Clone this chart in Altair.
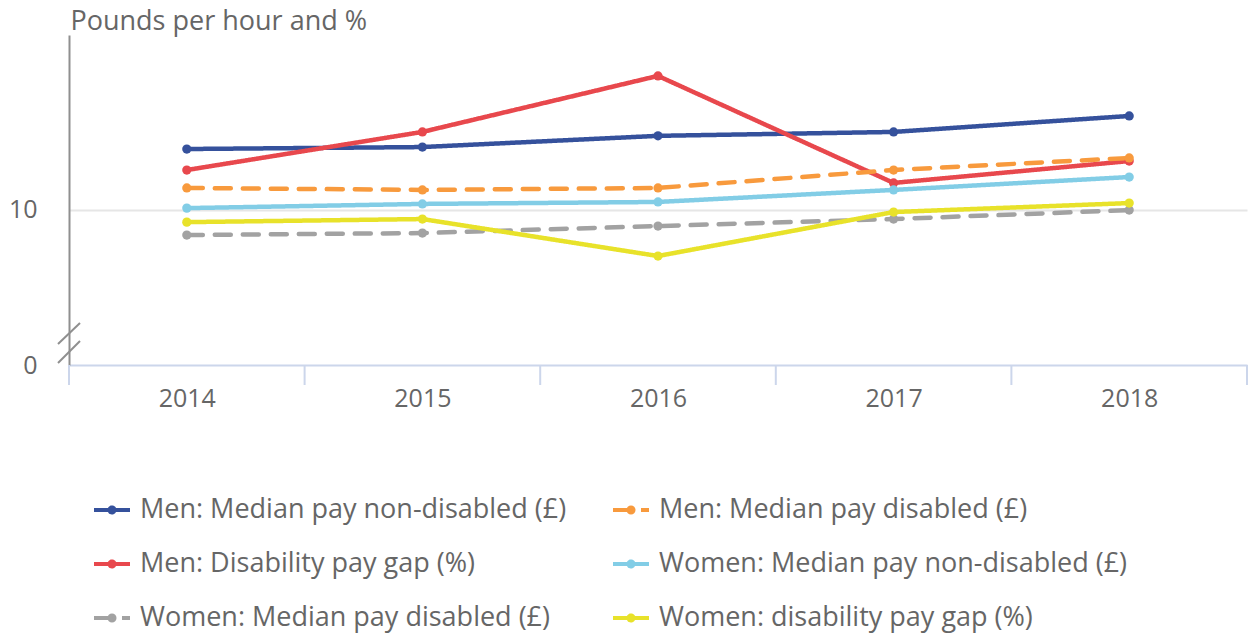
import altair as alt
import pandas as pd

years = [2014, 2015, 2016, 2017, 2018]
boundaries = [2013.5, 2014.5, 2015.5, 2016.5, 2017.5, 2018.5]

men_nd = [12.16, 12.23, 12.63, 12.77, 13.34]
men_d = [10.77, 10.70, 10.77, 11.41, 11.84]
men_gap = [11.41, 12.77, 14.77, 10.95, 11.73]
women_nd = [10.05, 10.20, 10.27, 10.70, 11.16]
women_d = [9.09, 9.16, 9.41, 9.66, 9.98]
women_gap = [9.55, 9.66, 8.34, 9.91, 10.23]

# legend order (column-major fill of a 2-column legend)
series_names = [
    "Men: Median pay non-disabled (£)",
    "Men: Disability pay gap (%)",
    "Women: Median pay disabled (£)",
    "Men: Median pay disabled (£)",
    "Women: Median pay non-disabled (£)",
    "Women: disability pay gap (%)",
]
series_values = [men_nd, men_gap, women_d, men_d, women_nd, women_gap]
colors = ["#35519C", "#E8484D", "#A2A2A2", "#F89A3D", "#82CDE6", "#E8E22A"]
dashes = [[1, 0], [1, 0], [16, 12], [16, 12], [1, 0], [1, 0]]

y_min, y_max = 4.45, 16.23

rows = []
for name, vals in zip(series_names, series_values):
    for yr, v in zip(years, vals):
        rows.append({"year": yr, "value": v, "series": name})
df = pd.DataFrame(rows)

TEXT = "#666666"
FONT = "Open Sans"

x_enc = alt.X(
    "year:Q",
    scale=alt.Scale(domain=[2013.5, 2018.5], nice=False, zero=False),
    axis=alt.Axis(
        values=years, format="d", title=None, ticks=False, grid=False,
        labelFontSize=25, labelColor=TEXT, labelFont=FONT, labelPadding=21,
        domainColor="#ccd6eb", domainWidth=2,
    ),
)
y_enc = alt.Y(
    "value:Q",
    scale=alt.Scale(domain=[y_min, y_max], nice=False, zero=False),
    axis=alt.Axis(
        values=[y_min, 10], ticks=False,
        title="Pounds per hour and %", titleAngle=0, titleAlign="left",
        titleBaseline="alphabetic", titleX=1, titleY=-6,
        titleFontSize=27, titleFont=FONT, titleColor=TEXT, titleFontWeight="normal",
        labelExpr="datum.value == 10 ? '10' : '0'",
        labelFontSize=25, labelColor=TEXT, labelFont=FONT, labelPadding=32,
        domainColor="#8f8f8f", domainWidth=2,
        grid=True,
        gridColor={"condition": {"test": "datum.value == 10", "value": "#e6e6e6"}, "value": "transparent"},
        gridWidth=2,
    ),
)

color_scale = alt.Scale(domain=series_names, range=colors)
dash_scale = alt.Scale(domain=series_names, range=dashes)

legend_path = "M-1,0L1,0M0.14,0A0.14,0.14,0,1,1,-0.14,0A0.14,0.14,0,1,1,0.14,0Z"
legend = alt.Legend(
    title=None, orient="none", legendX=23, legendY=455, columns=2,
    symbolType=legend_path, symbolSize=1296, symbolStrokeWidth=4,
    labelFontSize=27, labelColor=TEXT, labelFont=FONT, labelLimit=600,
    labelOffset=8, columnPadding=38, rowPadding=21, padding=0,
)

lines = alt.Chart(df).mark_line(strokeWidth=4.5, strokeCap="round").encode(
    x=x_enc, y=y_enc,
    color=alt.Color("series:N", scale=color_scale, legend=legend),
    strokeDash=alt.StrokeDash("series:N", scale=dash_scale, legend=legend),
)

points = alt.Chart(df).mark_circle(size=85, opacity=1).encode(
    x="year:Q", y="value:Q",
    color=alt.Color("series:N", scale=color_scale, legend=legend),
)

bdf = pd.DataFrame({"b": boundaries})
ticks = alt.Chart(bdf).mark_rule(color="#ccd6eb", strokeWidth=2).encode(
    x="b:Q", y=alt.value(330), y2=alt.value(350),
)

brk = pd.DataFrame({"k": [0]})
slash1 = alt.Chart(brk).mark_rule(color="#8f8f8f", strokeWidth=2).encode(
    x=alt.value(-11), x2=alt.value(11), y=alt.value(309), y2=alt.value(288),
)
slash2 = alt.Chart(brk).mark_rule(color="#8f8f8f", strokeWidth=2).encode(
    x=alt.value(-11), x2=alt.value(11), y=alt.value(328), y2=alt.value(306),
)

chart = alt.layer(ticks, lines, points, slash1, slash2).properties(
    width=1178, height=330,
    autosize=alt.AutoSizeParams(type="none"),
    padding={"left": 61, "top": 27, "right": 1, "bottom": 272},
).configure(font=FONT).configure_view(stroke="transparent", strokeWidth=0)

chart.save("out.html", embed_options={"renderer": "svg", "actions": False})
